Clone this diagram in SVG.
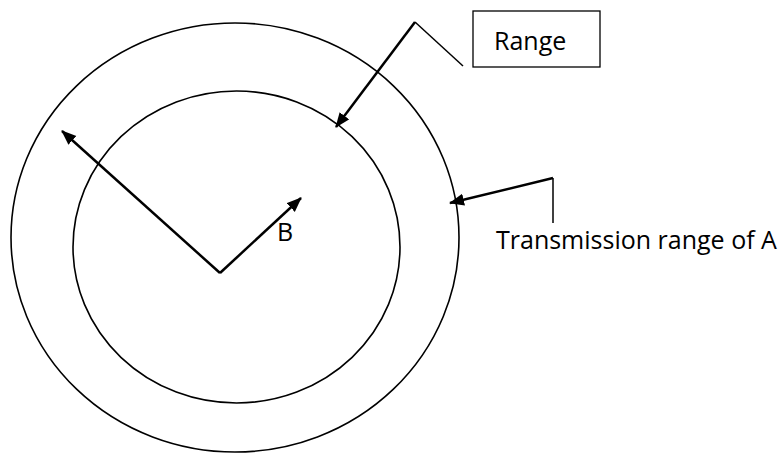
<svg xmlns="http://www.w3.org/2000/svg" width="781" height="453" viewBox="0 0 781 453">
<style>
.c{fill:none;stroke:#000;stroke-width:1.6}
.a{fill:none;stroke:#000;stroke-width:2.5}
.l{fill:none;stroke:#000;stroke-width:1.5}
.t{font-family:"Open Sans","Noto Sans",sans-serif;font-size:25px;fill:#000}
</style>
<defs>
<marker id="ah" markerUnits="userSpaceOnUse" markerWidth="16" markerHeight="14" refX="14" refY="6" orient="auto">
<path d="M0,0 L15,6 L0,12 Z" fill="#000"/>
</marker>
</defs>
<rect width="781" height="453" fill="#fff"/>
<g id="outer"><ellipse class="c" cx="235" cy="237.5" rx="224" ry="214.5"/></g>
<g id="inner"><ellipse class="c" cx="236.5" cy="247" rx="163.5" ry="156"/></g>
<g id="range-box"><rect x="473" y="11" width="127" height="56" fill="#fff" stroke="#000" stroke-width="1.3"/><text class="t" x="494" y="50">Range</text></g>
<g id="tx-label"><text class="t" x="496" y="249">Transmission range of A</text></g>
<g id="b-label"><text class="t" x="277" y="241">B</text></g>
<g id="connectors">
<path class="a" d="M220,273 L62,131" marker-end="url(#ah)"/>
<path class="a" d="M220,273 L301,198" marker-end="url(#ah)"/>
<path class="l" d="M463,66 L415,22"/>
<path class="a" d="M415,22 L336,127" marker-end="url(#ah)"/>
<path class="l" d="M553,223 L553,178"/>
<path class="a" d="M553,178 L450,203" marker-end="url(#ah)"/>
</g>
</svg>
